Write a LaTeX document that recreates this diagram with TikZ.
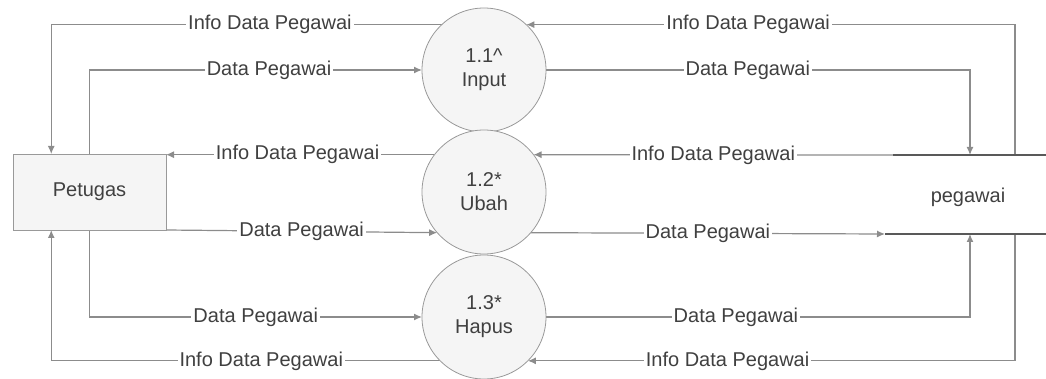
\documentclass[tikz,border=0pt]{standalone}
\usepackage{fontspec}
\setmainfont{Liberation Sans}
\usetikzlibrary{
	arrows.meta,
	calc,
	backgrounds,
	}

\begin{document}
\begin{tikzpicture}[x=0.5pt,y=-0.5pt,
	proc/.style={draw=gray!80,fill=gray!8,shape=circle,minimum size=62pt,inner sep=0pt,outer sep=0pt,align=center,text=black!75},
	entity/.style={draw=gray!80,fill=gray!8,shape=rectangle,minimum width=76.5pt,minimum height=38pt,inner sep=0pt,outer sep=0pt,text=black!75},
	flow/.style={draw=gray!90,line width=0.6pt,-{Latex[length=4pt,width=3.5pt]}},
	lbl/.style={fill=white,inner sep=1pt,text=black!75},
	store/.style={draw=gray!70!black,line width=1.1pt}]
\useasboundingbox (0,0) rectangle (1046,379);
\node[entity] (pt) at (89.5,192) {Petugas};
\node[proc] (p1) at (484,70) {1.1\textasciicircum\\Input};
\node[proc] (p2) at (484,192) {1.2*\\Ubah};
\node[proc] (p3) at (484,317) {1.3*\\Hapus};
% data store pegawai
\node[text=black!75] (st) at (968,197) {pegawai};
\coordinate (stA) at (893,155);
\coordinate (stC) at (885,234);
\coordinate (stIn1) at (970,155);
\coordinate (stOut1) at (1015,155);
\coordinate (stIn2) at (970,234);
\coordinate (stOut2) at (1015,234);
\draw[store] (stA) -- (1046,155);
\draw[store] (stC) -- (1046,234);
\begin{scope}[on background layer]
\draw[flow] (stOut1) |- node[lbl,pos=0.773] {Info Data Pegawai} (p1.47);
\draw[flow] (p1.133) -| node[lbl,pos=0.22] {Info Data Pegawai} ($(pt.north west)!.5!(pt.north)$);
\draw[flow] (pt.north) |- node[lbl,pos=0.77] {Data Pegawai} (p1.west);
\draw[flow] (p1.east) -| node[lbl,pos=0.238] {Data Pegawai} (stIn1);
\draw[flow] (stA) -- node[lbl,pos=0.5] {Info Data Pegawai} (p2.37);
\draw[flow] (p2.143) -- node[lbl,pos=0.51] {Info Data Pegawai} (p2.143 -| pt.east);
\draw[flow] (pt.south east) -- node[lbl,pos=0.5] {Data Pegawai} (p2.221);
\draw[flow] (p2.-41) -- node[lbl,pos=0.5] {Data Pegawai} (stC);
\draw[flow] (pt.south) |- node[lbl,pos=0.75] {Data Pegawai} (p3.west);
\draw[flow] (p3.east) -| node[lbl,pos=0.224] {Data Pegawai} (stIn2);
\draw[flow] (stOut2) |- node[lbl,pos=0.795] {Info Data Pegawai} (p3.-45);
\draw[flow] (p3.225) -| node[lbl,pos=0.23] {Info Data Pegawai} ($(pt.south west)!.5!(pt.south)$);
\end{scope}
\end{tikzpicture}
\end{document}
